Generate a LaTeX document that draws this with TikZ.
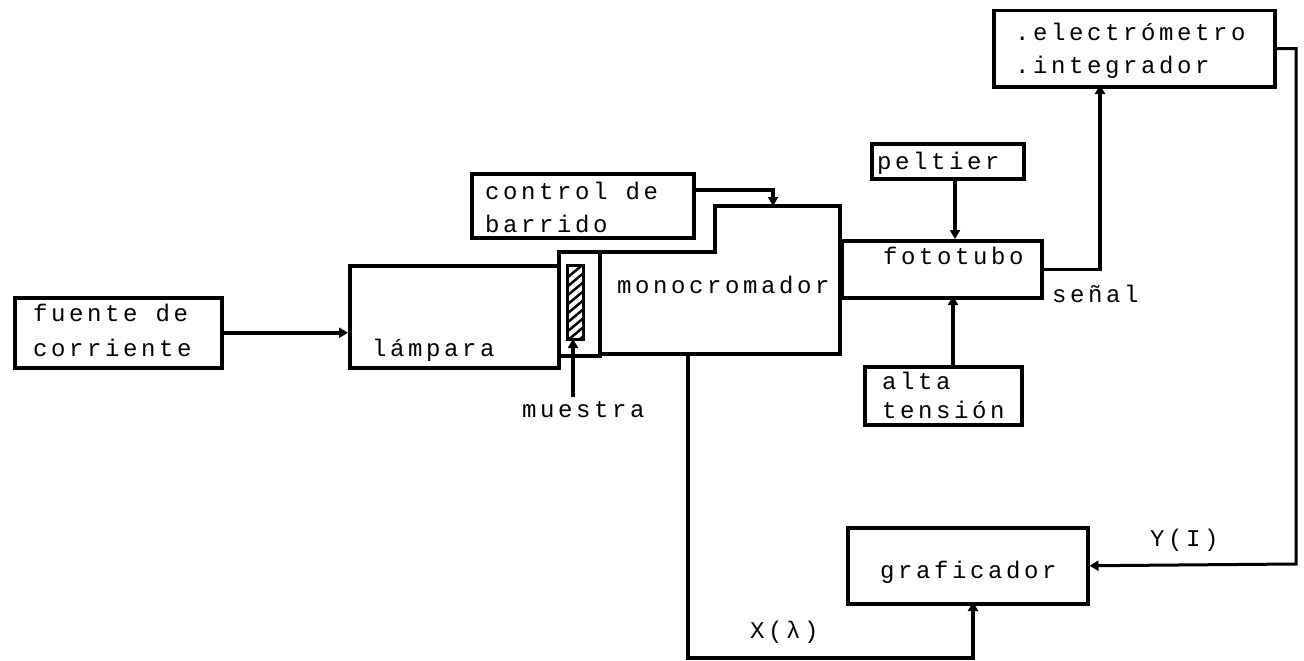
\documentclass[tikz,border=0pt]{standalone}
\usepackage{fontspec}
\newfontfamily\dotfont{Liberation Mono}[LetterSpace=15]
\usetikzlibrary{arrows.meta}
\tikzset{
  box/.style={draw, line width=3.5pt, inner sep=0pt, anchor=north west},
  lbl/.style={anchor=base west, inner sep=0pt, font=\dotfont\fontsize{24}{24}\selectfont},
  conn/.style={line width=3.5pt},
  tip/.style={-{Triangle[length=9pt,width=10pt]}},
}
\begin{document}
\begin{tikzpicture}[x=1pt,y=-1pt]
\useasboundingbox (0,0) rectangle (1304,661);

% blocks
\node[box, minimum width=207, minimum height=70]  (fuente)  at (13,296)  {};
\node[box, minimum width=209, minimum height=102] (lampara) at (348,264) {};
\node[box, minimum width=41,  minimum height=104] (holder)  at (557,250) {};
\node[box, minimum width=222, minimum height=64]  (control) at (470,172) {};
\node[box, minimum width=152, minimum height=35]  (peltier) at (870,142) {};
\node[box, minimum width=200, minimum height=57]  (foto)    at (840,239) {};
\node[box, minimum width=157, minimum height=58]  (alta)    at (863,365) {};
\node[box, minimum width=281, minimum height=76]  (electro) at (992,9)   {};
\node[box, minimum width=240, minimum height=76]  (graf)    at (846,526) {};

% monochromator body (stepped outline)
\node[anchor=north west, inner sep=0pt, minimum width=242, minimum height=148] (mono) at (598,206) {};
\draw[line width=4pt, line join=miter]
  (598,252) -- (715,252) -- (715,206) -- (840,206) -- (840,354) -- (598,354);

% sample in its holder
\node[draw, line width=2.5pt, anchor=north west, inner sep=0pt, minimum width=16, minimum height=74] (sample) at (566,264) {};
\begin{scope}
  \clip (566,264) rectangle (582,338);
  \foreach \k in {0,...,9} {
    \draw[line width=2.5pt] (562,282+\k*9) -- (586,262+\k*9);
  }
\end{scope}

% labels
\node[lbl] (tfuente)  at (33,321)   {fuente de};
\node[lbl] (tcorr)    at (33,356)   {corriente};
\node[lbl] (tlamp)    at (372,356)  {lámpara};
\node[lbl] (muestra)  at (522,417)  {muestra};
\node[lbl] (tmono)    at (617,293)  {monocromador};
\node[lbl] (tcontrol) at (485,199)  {control de};
\node[lbl] (tbarr)    at (485,232)  {barrido};
\node[lbl] (tpelt)    at (877,169)  {peltier};
\node[lbl] (tfoto)    at (883,264)  {fototubo};
\node[lbl] (senal)    at (1052,302) {señal};
\node[lbl] (talta)    at (882,389)  {alta};
\node[lbl] (tten)     at (882,418)  {tensión};
\node[lbl] (telec)    at (1015,41)  {.electrómetro};
\node[lbl] (tint)     at (1015,74)  {.integrador};
\node[lbl] (tgraf)    at (880,578)  {graficador};
\node[lbl] (yi)       at (1150,546) {Y(I)};
\node[lbl] (xl)       at (750,638)  {X(λ)};

% connection points
\coordinate (mtop) at (773,206);
\coordinate (ftop) at (955,239);
\coordinate (fbot) at (953,296);
\coordinate (etap) at (1100,85);
\coordinate (rcol) at (1296,564);
\coordinate (mout) at (688,354);
\coordinate (xbot) at (973,658);
\coordinate (gin)  at (973,602);
\coordinate (sbot) at (573,339);

% connectors
\draw[conn,tip] (fuente.east) -- (fuente.east -| lampara.west);
\draw[conn,tip] ([yshift=16pt]control.east) -| (mtop);
\draw[conn,tip] (peltier.south -| ftop) -- (ftop);
\draw[conn,tip] (alta.north -| fbot) -- (fbot);
\draw[conn,tip] (foto.east) -| (etap);
\draw[line width=3pt,tip] (electro.east) -| (rcol) -- (graf.east);
\draw[conn,tip] (mout) |- (xbot) -- (gin);
\draw[conn,tip] (573,397) -- (sbot);
\end{tikzpicture}
\end{document}
